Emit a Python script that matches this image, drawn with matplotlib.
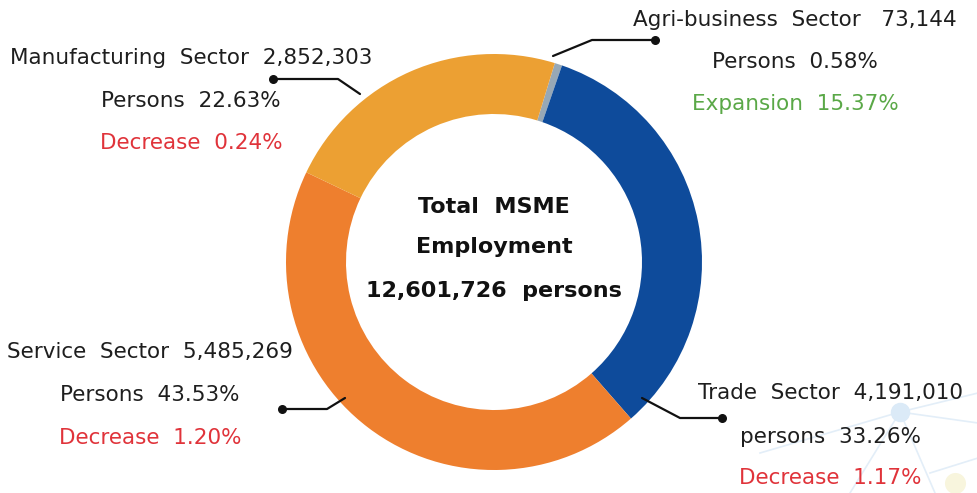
import matplotlib.pyplot as plt

# MSME employment by sector (persons, share, yearly change)
sectors = ["Agri-business", "Trade", "Service", "Manufacturing"]
persons = [73144, 4191010, 5485269, 2852303]
shares = [0.58, 33.26, 43.53, 22.63]
changes = ["Expansion  15.37%", "Decrease  1.17%", "Decrease  1.20%", "Decrease  0.24%"]
total = 12601726

colors = ["#97a8b6", "#0e4b9b", "#ee7f2e", "#eca033"]

W, H = 978, 493
fig = plt.figure(figsize=(W / 100, H / 100), dpi=100)
ax = fig.add_axes([0, 0, 1, 1])

# faint network decoration, lower right
deco = "#e3eef8"
for x0, y0, x1, y1 in [(900, 81, 978, 100), (900, 81, 978, 70), (900, 81, 850, 0),
                       (900, 81, 935, 0), (900, 81, 760, 40), (930, 20, 978, 35)]:
    ax.plot([x0, x1], [y0, y1], color=deco, lw=1.2, zorder=0)
ax.scatter([900], [81], s=170, color="#dbeaf7", zorder=0)
ax.scatter([955], [10], s=200, color="#f8f5dd", zorder=0)

ax.pie(shares, colors=colors, startangle=73, counterclock=False,
       center=(494, 231), radius=208, frame=True,
       wedgeprops=dict(width=60, linewidth=0))
ax.set_xlim(0, W)
ax.set_ylim(0, H)
ax.set_aspect("equal")
ax.axis("off")

# leader lines
leaders = [
    [(553, 437), (592, 453), (655, 453)],
    [(642, 95), (680, 75), (722, 75)],
    [(345, 95), (327, 84), (282, 84)],
    [(360, 399), (338, 414), (273, 414)],
]
for pts in leaders:
    xs = [p[0] for p in pts]
    ys = [p[1] for p in pts]
    ax.plot(xs, ys, color="#111111", lw=1.6, solid_capstyle="round", zorder=3)
    ax.scatter([xs[-1]], [ys[-1]], s=30, color="#111111", zorder=4)

font = "DejaVu Sans"
fs = 15.5
dark = "#1e1e1e"
red = "#e0333a"
green = "#5aa847"

label_pos = [(795, [473, 431, 389]), (830, [100, 56, 15]),
             (150, [141, 98, 55]), (191, [435, 392, 350])]
first_lines = [
    f"{sectors[0]}  Sector   {persons[0]:,}",
    f"{sectors[1]}  Sector  {persons[1]:,}",
    f"{sectors[2]}  Sector  {persons[2]:,}",
    f"{sectors[3]}  Sector  {persons[3]:,}",
]
person_word = ["Persons", "persons", "Persons", "Persons"]
for i in range(len(sectors)):
    x, ys = label_pos[i]
    ax.text(x, ys[0], first_lines[i], ha="center", va="center",
            fontsize=fs, color=dark, family=font)
    ax.text(x, ys[1], f"{person_word[i]}  {shares[i]:.2f}%", ha="center",
            va="center", fontsize=fs, color=dark, family=font)
    ax.text(x, ys[2], changes[i], ha="center", va="center", fontsize=fs,
            color=green if changes[i].startswith("Exp") else red, family=font)

# centre text
for y, t in [(286, "Total  MSME"), (246, "Employment"), (202, f"{total:,}  persons")]:
    ax.text(494, y, t, ha="center", va="center", fontsize=16,
            fontweight="bold", color="#111111", family=font)

fig.savefig("out.png", dpi=100, facecolor="white")
